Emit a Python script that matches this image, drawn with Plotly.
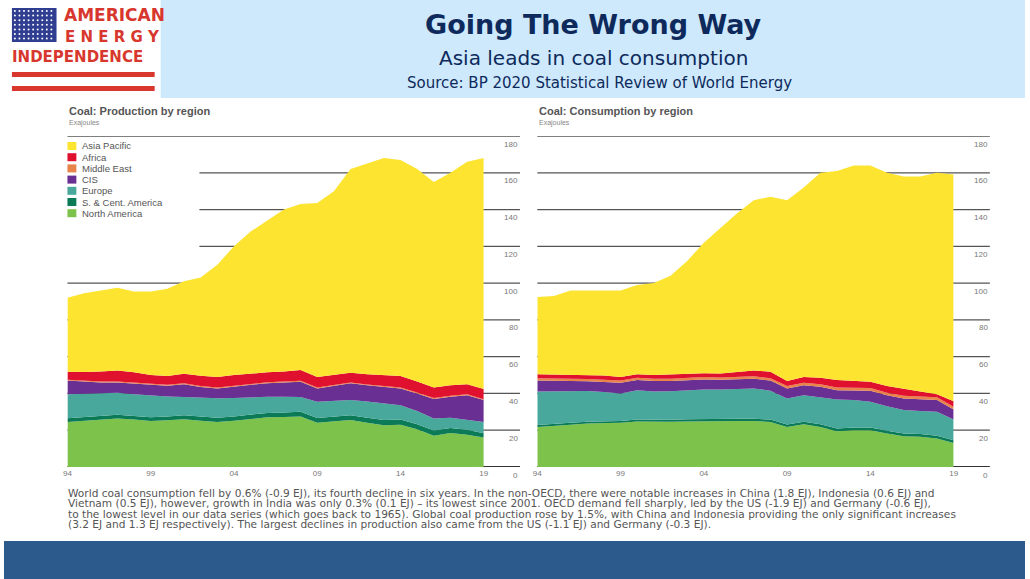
import plotly.graph_objects as go

years = list(range(1994, 2020))

# Production, cumulative tops of each stacked band (EJ)
prod_na = [24.5, 25.0, 25.8, 26.4, 25.8, 25.0, 25.4, 26.0, 25.2, 24.5, 25.2, 26.0, 27.0, 27.2, 27.5, 24.0, 24.8, 25.5, 24.0, 22.7, 23.0, 20.5, 17.0, 18.5, 17.6, 16.0]
prod_sca = [26.5, 27.0, 27.8, 28.4, 27.8, 27.0, 27.5, 28.2, 27.4, 26.8, 27.5, 28.4, 29.4, 29.6, 30.0, 26.6, 27.4, 28.2, 26.8, 25.5, 25.8, 23.3, 19.8, 21.2, 20.2, 18.4]
prod_eu = [39.6, 39.8, 40.2, 40.4, 39.6, 38.8, 38.4, 38.0, 37.6, 37.4, 37.5, 38.0, 38.2, 38.2, 38.0, 35.5, 35.9, 36.4, 35.6, 34.6, 33.6, 30.5, 26.4, 26.8, 25.8, 24.5]
prod_cis = [47.0, 46.4, 46.0, 46.0, 45.4, 44.4, 44.2, 45.0, 43.5, 42.7, 43.8, 44.8, 45.6, 46.0, 46.4, 42.7, 44.0, 45.5, 44.4, 43.6, 42.7, 40.0, 37.0, 38.2, 39.0, 36.4]
prod_me = [47.5, 46.9, 46.5, 46.5, 45.9, 44.9, 44.7, 45.5, 44.0, 43.2, 44.3, 45.3, 46.1, 46.5, 46.9, 43.2, 44.5, 46.0, 44.9, 44.1, 43.2, 40.5, 37.5, 38.7, 39.5, 36.9]
prod_af = [51.8, 51.6, 52.0, 52.5, 51.5, 50.0, 49.5, 50.7, 49.6, 49.0, 50.0, 50.8, 51.5, 52.0, 52.7, 49.0, 50.2, 51.3, 50.5, 49.8, 49.5, 46.5, 43.3, 44.5, 45.0, 42.4]
prod_total = [92.0, 94.5, 96.0, 97.5, 95.5, 95.5, 97.0, 101.0, 103.0, 110.0, 120.0, 128.0, 134.0, 140.0, 143.0, 143.5, 150.0, 162.0, 165.0, 168.0, 167.0, 162.0, 155.0, 160.0, 166.0, 168.0]

# Consumption, cumulative tops of each stacked band (EJ)
cons_na = [21.8, 22.2, 23.0, 23.6, 23.8, 24.0, 24.8, 24.5, 24.6, 24.8, 25.0, 25.2, 25.0, 25.0, 24.5, 21.8, 23.3, 21.8, 19.5, 20.0, 20.0, 18.2, 16.7, 16.4, 15.5, 13.0]
cons_sca = [22.8, 23.2, 24.0, 24.6, 24.8, 25.0, 25.8, 25.6, 25.7, 25.9, 26.1, 26.3, 26.2, 26.2, 25.8, 23.1, 24.6, 23.2, 21.0, 21.5, 21.5, 19.7, 18.2, 17.9, 17.0, 14.5]
cons_eu = [41.0, 41.0, 41.2, 41.3, 40.8, 40.0, 41.8, 41.0, 41.2, 41.8, 42.2, 42.2, 42.4, 42.7, 41.5, 37.3, 39.0, 38.0, 36.7, 36.4, 35.5, 33.0, 31.0, 30.5, 30.0, 25.8]
cons_cis = [47.0, 47.0, 46.8, 46.6, 46.2, 45.8, 47.3, 46.8, 46.8, 47.3, 47.6, 47.4, 47.6, 48.0, 47.0, 42.7, 44.5, 43.6, 41.8, 41.8, 41.5, 39.0, 37.3, 36.8, 36.4, 31.3]
cons_me = [48.2, 48.2, 48.0, 47.8, 47.4, 47.0, 48.5, 48.0, 48.0, 48.5, 48.9, 48.7, 48.9, 49.3, 48.3, 44.0, 45.8, 45.0, 43.2, 43.2, 42.9, 40.4, 38.8, 38.3, 37.9, 32.8]
cons_af = [50.5, 50.3, 50.5, 50.3, 49.8, 49.0, 50.4, 50.0, 50.4, 51.0, 51.0, 50.8, 51.6, 52.5, 51.8, 46.8, 49.0, 48.6, 47.3, 47.0, 46.4, 44.0, 42.4, 41.0, 39.6, 35.8]
cons_total = [92.4, 93.0, 96.0, 96.0, 96.0, 96.0, 99.0, 100.0, 104.0, 112.0, 122.0, 130.0, 138.0, 145.0, 147.0, 145.0, 152.0, 160.0, 161.0, 164.0, 164.0, 160.0, 158.0, 158.0, 160.0, 159.0]

regions = ["North America", "S. & Cent. America", "Europe", "CIS", "Middle East", "Africa", "Asia Pacific"]
colors = ["#7dc24b", "#0b7a57", "#48a89b", "#6a2f93", "#e8834a", "#e0112f", "#fde431"]
legend_order = ["Asia Pacific", "Africa", "Middle East", "CIS", "Europe", "S. & Cent. America", "North America"]
yticks = [0, 20, 40, 60, 80, 100, 120, 140, 160, 180]
xtick_vals = [1994, 1999, 2004, 2009, 2014, 2019]
xtick_text = ["94", "99", "04", "09", "14", "19"]

note_lines = [
    "World coal consumption fell by 0.6% (-0.9 EJ), its fourth decline in six years. In the non-OECD, there were notable increases in China (1.8 EJ), Indonesia (0.6 EJ) and",
    "Vietnam (0.5 EJ), however, growth in India was only 0.3% (0.1 EJ) – its lowest since 2001. OECD demand fell sharply, led by the US (-1.9 EJ) and Germany (-0.6 EJ),",
    "to the lowest level in our data series (which goes back to 1965). Global coal production rose by 1.5%, with China and Indonesia providing the only significant increases",
    "(3.2 EJ and 1.3 EJ respectively). The largest declines in production also came from the US (-1.1 EJ) and Germany (-0.3 EJ).",
]

prod = [prod_na, prod_sca, prod_eu, prod_cis, prod_me, prod_af, prod_total]
cons = [cons_na, cons_sca, cons_eu, cons_cis, cons_me, cons_af, cons_total]

fig = go.Figure()
for series, ax in [(prod, ""), (cons, "2")]:
    for i, (name, col, ys) in enumerate(zip(regions, colors, series)):
        fig.add_trace(go.Scatter(
            x=years, y=ys, xaxis="x" + ax, yaxis="y" + ax,
            mode="lines", line=dict(width=0, color=col),
            fill="tozeroy" if i == 0 else "tonexty", fillcolor=col,
            showlegend=False, hoverinfo="skip",
        ))

# flag dots on a pixel-space overlay axis
dot_x = [11 + 4.6 * c for r in range(7) for c in range(9)]
dot_y = [11 + 4.6 * r for r in range(7) for c in range(9)]
fig.add_trace(go.Scatter(x=dot_x, y=dot_y, xaxis="x3", yaxis="y3", mode="markers",
                         marker=dict(size=2, color="white"), showlegend=False, hoverinfo="skip"))

# legend (left chart), as small squares + labels
for k, name in enumerate(legend_order):
    c = colors[regions.index(name)]
    yy = 146 + k * 11.2
    fig.add_shape(type="rect", xref="paper", yref="paper",
                  x0=64 / 1030, x1=73 / 1030, y0=1 - (yy + 4) / 579, y1=1 - (yy - 4) / 579,
                  fillcolor=c, line_width=0)
    fig.add_annotation(x=77 / 1030, y=1 - yy / 579, xref="paper", yref="paper",
                       text=name, showarrow=False, xanchor="left", yanchor="middle",
                       font=dict(size=9.5, color="#555", family="Liberation Sans"))

# gridlines and right-side tick labels
for ax in ["", "2"]:
    xd = "x" + ax + " domain"
    yr = "y" + ax
    for v in yticks:
        x0 = 0.317 if (ax == "" and v in (120, 140, 160)) else 0
        fig.add_shape(type="line", xref=xd, yref=yr, x0=x0, x1=1.087, y0=v, y1=v,
                      line=dict(color="#555" if v else "#333", width=1.3 if v else 1.8), layer="below")
        fig.add_annotation(xref=xd, yref=yr, x=1.087, y=v, yshift=-8, text=str(v),
                           showarrow=False, xanchor="right",
                           font=dict(size=8, color="#777", family="Liberation Sans"))

axis_common = dict(range=[1994, 2019], showgrid=False, zeroline=False, showline=False,
                   tickvals=xtick_vals, ticktext=xtick_text, ticks="",
                   tickfont=dict(size=8, color="#777", family="Liberation Sans"), ticklabelstandoff=0)
yaxis_common = dict(range=[0, 180], showgrid=False, zeroline=False, showticklabels=False)

fig.update_layout(
    width=1030, height=579, margin=dict(l=0, r=0, t=0, b=0),
    paper_bgcolor="white", plot_bgcolor="rgba(0,0,0,0)",
    xaxis=dict(domain=[64 / 1030, 484 / 1030], anchor="y", **axis_common),
    yaxis=dict(domain=[1 - 467 / 579, 1 - 136 / 579], anchor="x", **yaxis_common),
    xaxis2=dict(domain=[538 / 1030, 958 / 1030], anchor="y2", **axis_common),
    yaxis2=dict(domain=[1 - 467 / 579, 1 - 136 / 579], anchor="x2", **yaxis_common),
    xaxis3=dict(domain=[0, 1], range=[0, 1030], visible=False, anchor="y3"),
    yaxis3=dict(domain=[0, 1], range=[579, 0], visible=False, anchor="x3"),
)

# slide header / footer
def px_rect(x0, y0, x1, y1, color):
    fig.add_shape(type="rect", xref="paper", yref="paper", x0=x0 / 1030, x1=x1 / 1030,
                  y0=1 - y1 / 579, y1=1 - y0 / 579, fillcolor=color, line_width=0, layer="below")

px_rect(158, 0, 1030, 98, "#cde9fb")
px_rect(0, 541, 1030, 579, "#2d5a8c")
px_rect(8, 8, 53, 42, "#2f3e91")
px_rect(8, 72, 152, 77, "#d8372e")
px_rect(8, 86, 152, 91, "#d8372e")

def px_text(x, y, text, size, color, anchor="left", bold=False, family="DejaVu Sans"):
    fig.add_annotation(x=x / 1030, y=1 - y / 579, xref="paper", yref="paper", text=text,
                       showarrow=False, xanchor=anchor, yanchor="middle", align="left",
                       font=dict(size=size, color=color, family=family,
                                 weight="bold" if bold else "normal"))

px_text(59, 15, "AMERICAN", 17, "#d8372e", bold=True)
px_text(60, 37, "E N E R G Y", 15, "#d8372e", bold=True)
px_text(6, 57, "INDEPENDENCE", 15, "#d8372e", bold=True)
px_text(595, 24, "Going The Wrong Way", 27, "#0e2a5c", anchor="center", bold=True)
px_text(595, 58, "Asia leads in coal consumption", 20, "#0e2a5c", anchor="center")
px_text(601, 83, "Source: BP 2020 Statistical Review of World Energy", 15, "#0e2a5c", anchor="center")
px_text(64, 111, "Coal: Production by region", 11, "#555", bold=True, family="Liberation Sans")
px_text(64, 123, "Exajoules", 7, "#888", family="Liberation Sans")
px_text(538, 111, "Coal: Consumption by region", 11, "#555", bold=True, family="Liberation Sans")
px_text(538, 123, "Exajoules", 7, "#888", family="Liberation Sans")
for k, line in enumerate(note_lines):
    px_text(63, 493 + k * 10.4, line, 10.6, "#555")

fig.write_html("out.html", config={"displayModeBar": False},
               post_script="document.body.style.margin='0';document.body.style.padding='0';"
                           "document.body.style.overflow='hidden';")
